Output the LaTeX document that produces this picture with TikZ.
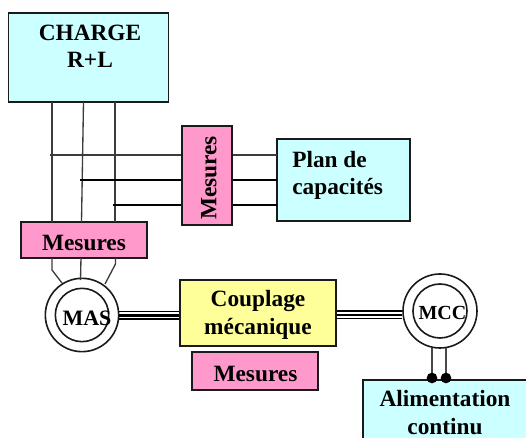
\documentclass[tikz,border=0pt]{standalone}
\usepackage{fontspec}
\setmainfont{Liberation Serif}
\definecolor{cyanbox}{HTML}{CCFFFF}
\definecolor{pinkbox}{HTML}{FF99CC}
\definecolor{yellowbox}{HTML}{FFFF99}
\definecolor{ink}{HTML}{1A1A1A}
\tikzset{
  px/.style={x=0.75pt,y=-0.75pt},
  box/.style={draw=ink,line width=1.4pt,inner sep=0pt,align=center},
  cyanb/.style={box,fill=cyanbox},
  pinkb/.style={box,fill=pinkbox},
  yellowb/.style={box,fill=yellowbox},
  lab/.style={inner sep=0pt,align=center,font=\bfseries\fontsize{17.5}{20.5}\selectfont},
  wire/.style={draw=ink!85,line width=1pt},
  dark/.style={draw=black,line width=1.2pt},
  outer/.style={circle,draw=ink,line width=1.2pt,fill=white,inner sep=0pt},
  inner/.style={circle,draw=ink,line width=1.2pt,inner sep=0pt},
  dot/.style={circle,fill=black,inner sep=0pt,minimum size=8pt},
}
\begin{document}
\begin{tikzpicture}[px]
\useasboundingbox (0,0) rectangle (526,438);
\coordinate (h1) at (50,155);
\coordinate (h2) at (80,180);
\coordinate (h3) at (113,205);
\coordinate (cw1) at (52,102);
\coordinate (cw2) at (83.5,102);
\coordinate (cw3) at (115,102);
\coordinate (mw1) at (52,222);
\coordinate (mw2) at (81.5,222);
\coordinate (mw3) at (115,222);
\coordinate (lw1) at (52,258);
\coordinate (lw2) at (81,258);
\coordinate (lw3) at (115.5,258);
\coordinate (lk1) at (52,270);
\coordinate (lk3) at (115.5,264);
\coordinate (ma1) at (62,283);
\coordinate (ma2) at (80.5,280);
\coordinate (ma3) at (105,284);
\coordinate (pl1) at (277,155);
\coordinate (pl2) at (277,180);
\coordinate (pl3) at (277,205);

\node[cyanb,minimum width=120pt,minimum height=66.5pt] (charge) at (88.5,57.5) {};
\node[lab] (charget) at (90,46.5) {CHARGE\\R+L};
\node[pinkb,minimum width=94pt,minimum height=27pt] (mesL) at (84,240) {};
\node[lab] (mesLt) at (84,243) {Mesures};
\node[pinkb,minimum width=37pt,minimum height=74pt] (mesV) at (207,175.5) {};
\node[lab,rotate=90] (mesVt) at (209,178) {Mesures};
\node[cyanb,minimum width=100pt,minimum height=61.5pt] (plan) at (343.5,180) {};
\node[lab,align=left,anchor=north west] (plant) at (292,151) {Plan de\\capacités};
\node[yellowb,minimum width=117pt,minimum height=49.5pt] (coup) at (258,313) {};
\node[lab] (coupt) at (258,315) {Couplage\\mécanique};
\node[pinkb,minimum width=94pt,minimum height=28pt] (mesB) at (255,371) {};
\node[lab] (mesBt) at (255.5,374) {Mesures};
\node[cyanb,minimum width=130pt,minimum height=52pt,anchor=north west] (alim) at (362,379) {};
\node[lab] (alimt) at (445,412.5) {Alimentation\\continu};
\node[outer,minimum size=55pt] (mas) at (82,315) {};
\node[inner,minimum size=40pt] (masi) at (82,315) {};
\node[lab,font=\bfseries\fontsize{16.5}{18}\selectfont] (mast) at (87,318) {MAS};
\node[outer,minimum size=55.5pt] (mcc) at (440,311) {};
\node[inner,minimum size=40.5pt] (mcci) at (440,311) {};
\node[lab,font=\bfseries\fontsize{15}{17}\selectfont] (mcct) at (442.5,313) {MCC};

% vertical wires
\draw[wire] (cw1) -- (mw1);
\draw[wire] (cw2) -- (mw2);
\draw[wire] (cw3) -- (mw3);
% horizontal wires
\draw[wire] (h1) -- (h1 -| mesV.west);
\draw[dark] (h2) -- (h2 -| mesV.west);
\draw[dark] (h3) -- (h3 -| mesV.west);
\draw[wire] (h1 -| mesV.east) -- (pl1);
\draw[dark] (h2 -| mesV.east) -- (pl2);
\draw[dark] (h3 -| mesV.east) -- (pl3);
% to MAS
\draw[wire] (lw1) -- (lk1) -- (ma1);
\draw[wire] (lw2) -- (ma2);
\draw[wire] (lw3) -- (lk3) -- (ma3);
% shafts
\foreach \y/\w in {311.5/1.2,315.5/2,319/1.2}{
  \draw[black,line width=\w pt] (mas.east |- 0,\y) -- (coup.west |- 0,\y);
  \draw[black,line width=\w pt] (coup.east |- 0,\y-0.5) -- (mcc.west |- 0,\y-0.5);
}
% MCC feeds
\draw[draw=ink!80,line width=1.3pt] (432,348) -- (432,378);
\draw[draw=ink!80,line width=1.3pt] (446,348) -- (446,378);
\node[dot] (d1) at (432,378) {};
\node[dot] (d2) at (446,378) {};
\end{tikzpicture}
\end{document}
